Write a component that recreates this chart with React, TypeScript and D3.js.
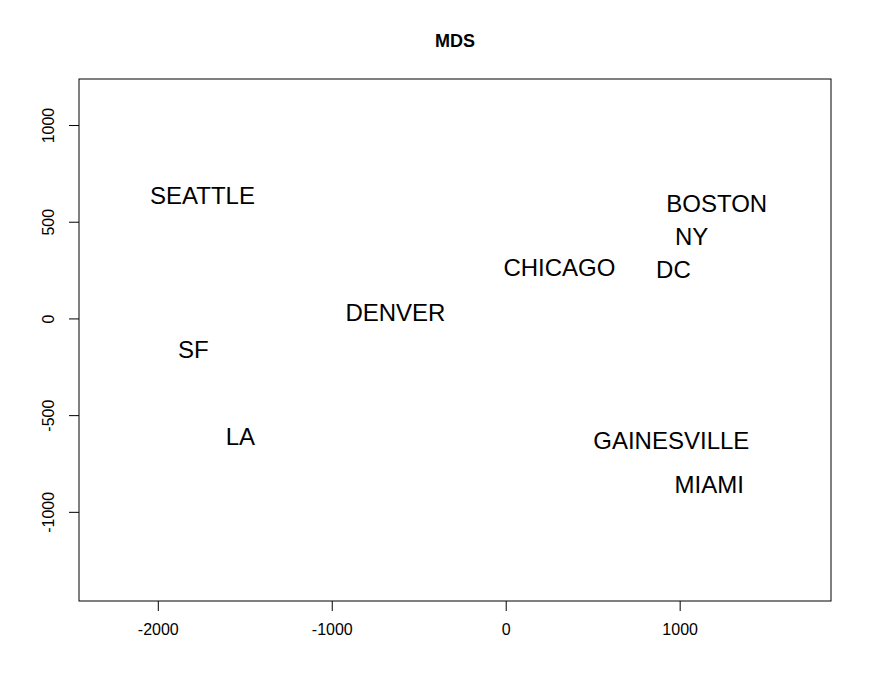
import React, { useRef, useEffect } from 'react';
import * as d3 from 'd3';

const cities = ['SEATTLE', 'BOSTON', 'NY', 'CHICAGO', 'DC', 'DENVER', 'SF', 'LA', 'GAINESVILLE', 'MIAMI'];
const coordX = [-1743, 1213, 1069, 309, 964, -634, -1796, -1525, 952, 1170];
const coordY = [638, 596, 426, 264, 256, 32, -160, -610, -630, -860];
const xTicks = [-2000, -1000, 0, 1000];
const yTicks = [-1000, -500, 0, 500, 1000];

const width = 872;
const height = 699;
const margin = { top: 79, right: 41, bottom: 98, left: 79 };

const App: React.FC = () => {
  const svgRef = useRef<SVGSVGElement | null>(null);

  useEffect(() => {
    const svg = d3.select(svgRef.current);
    svg.selectAll('*').remove();

    const innerWidth = width - margin.left - margin.right;
    const innerHeight = height - margin.top - margin.bottom;
    const font = 'Liberation Sans, Arial, Helvetica, sans-serif';

    const x = d3.scaleLinear().domain([-2453, 1870]).range([0, innerWidth]);
    const y = d3.scaleLinear().domain([-1461, 1238]).range([innerHeight, 0]);

    svg.append('rect').attr('width', width).attr('height', height).attr('fill', '#fff');

    const g = svg.append('g').attr('transform', `translate(${margin.left},${margin.top})`);

    // plot box
    g.append('rect')
      .attr('width', innerWidth)
      .attr('height', innerHeight)
      .attr('fill', 'none')
      .attr('stroke', '#000')
      .attr('stroke-width', 1);

    // x axis
    const xAxis = g.append('g')
      .attr('transform', `translate(0,${innerHeight})`)
      .call(d3.axisBottom(x).tickValues(xTicks).tickSize(10).tickPadding(13).tickFormat(d => String(d)));
    xAxis.select('.domain').remove();

    // y axis
    const yAxis = g.append('g')
      .call(d3.axisLeft(y).tickValues(yTicks).tickSize(10).tickFormat(d => String(d)));
    yAxis.select('.domain').remove();
    yAxis.selectAll('.tick text')
      .attr('x', 0)
      .attr('y', 0)
      .attr('dy', 0)
      .attr('text-anchor', 'middle')
      .attr('transform', 'translate(-25,0) rotate(-90)');

    svg.selectAll('.tick text')
      .attr('font-family', font)
      .attr('font-size', 16)
      .attr('fill', '#000');
    svg.selectAll('.tick line').attr('stroke', '#000');

    // city labels
    g.selectAll('.city')
      .data(cities)
      .enter()
      .append('text')
      .attr('class', 'city')
      .attr('x', (_, i) => x(coordX[i]))
      .attr('y', (_, i) => y(coordY[i]))
      .attr('dy', '0.36em')
      .attr('text-anchor', 'middle')
      .attr('font-family', font)
      .attr('font-size', 24)
      .attr('fill', '#000')
      .text(d => d);

    // title
    svg.append('text')
      .attr('x', margin.left + innerWidth / 2)
      .attr('y', 47)
      .attr('text-anchor', 'middle')
      .attr('font-family', font)
      .attr('font-size', 18)
      .attr('font-weight', 'bold')
      .text('MDS');
  }, []);

  return (
    <svg ref={svgRef} width={width} height={height} style={{ position: 'absolute', left: 0, top: 0 }} />
  );
};

export default App;
